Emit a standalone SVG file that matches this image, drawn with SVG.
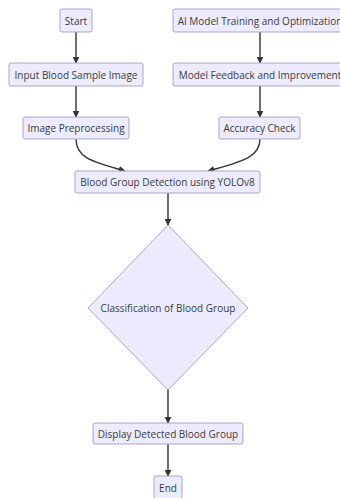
<svg xmlns="http://www.w3.org/2000/svg" width="340" height="498" viewBox="0 0 340 498">
<style>
.n rect,.n polygon{fill:#ECECFE;stroke:#A9A5C8;stroke-width:1}
.n text{font-family:"Open Sans",sans-serif;font-size:10px;fill:#3a3a3a;text-anchor:middle;dominant-baseline:central}
.e path{fill:none;stroke:#333;stroke-width:1.4}
</style>
<defs>
<marker id="a" viewBox="0 0 10 10" refX="9" refY="5" markerWidth="7" markerHeight="7" orient="auto-start-reverse" markerUnits="userSpaceOnUse">
<path d="M0,0L10,5L0,10z" fill="#333"/>
</marker>
</defs>
<rect width="340" height="498" fill="#ffffff"/>
<g class="e">
<path d="M76,32V63" marker-end="url(#a)"/>
<path d="M76,86V117" marker-end="url(#a)"/>
<path d="M260,32V63" marker-end="url(#a)"/>
<path d="M260,86V117" marker-end="url(#a)"/>
<path d="M76,139C76,156 88,161 125,171" marker-end="url(#a)"/>
<path d="M260,139C260,156 246,161 208,171" marker-end="url(#a)"/>
<path d="M168,193V225" marker-end="url(#a)"/>
<path d="M168,390V423" marker-end="url(#a)"/>
<path d="M168,444V476" marker-end="url(#a)"/>
</g>
<g class="n" id="start"><rect x="60" y="9" width="32" height="23" rx="2"/><text x="76" y="20.5">Start</text></g>
<g class="n" id="input"><rect x="9" y="63" width="134" height="23" rx="2"/><text x="76" y="74.5">Input Blood Sample Image</text></g>
<g class="n" id="prep"><rect x="23" y="117" width="106" height="22" rx="2"/><text x="76" y="128">Image Preprocessing</text></g>
<g class="n" id="train"><rect x="173" y="9" width="174" height="23" rx="2"/><text x="260" y="20.5">AI Model Training and Optimization</text></g>
<g class="n" id="feedback"><rect x="173" y="63" width="174" height="23" rx="2"/><text x="260" y="74.5">Model Feedback and Improvement</text></g>
<g class="n" id="acc"><rect x="219" y="117" width="81" height="22" rx="2"/><text x="259.5" y="128">Accuracy Check</text></g>
<g class="n" id="detect"><rect x="75" y="171" width="185" height="22" rx="2"/><text x="167.5" y="182">Blood Group Detection using YOLOv8</text></g>
<g class="n" id="classify"><polygon points="168,225 248,308 168,390 88,308"/><text x="168" y="308">Classification of Blood Group</text></g>
<g class="n" id="display"><rect x="93" y="423" width="150" height="21" rx="2"/><text x="168" y="433.5">Display Detected Blood Group</text></g>
<g class="n" id="end"><rect x="154" y="476" width="28" height="23" rx="2"/><text x="168" y="487.5">End</text></g>
</svg>
